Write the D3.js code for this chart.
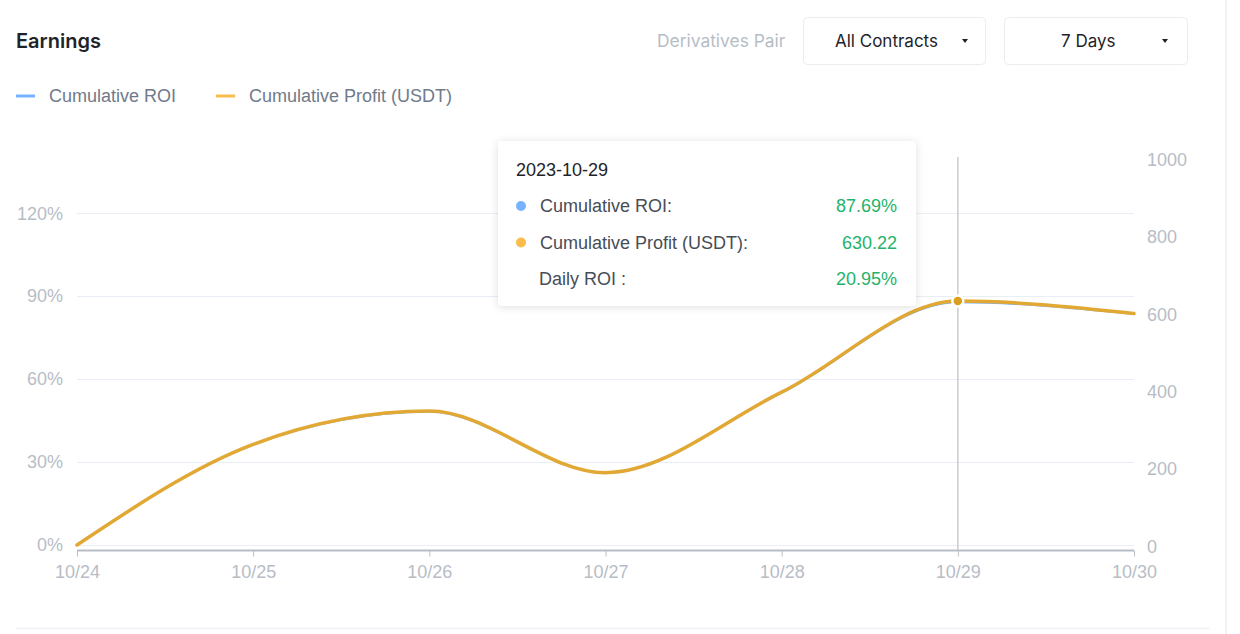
<!DOCTYPE html>
<html>
<head>
<meta charset="utf-8">
<script src="https://cdn.jsdelivr.net/npm/d3@7"></script>
<style>
  html, body { margin: 0; padding: 0; background: #fff; }
  svg { display: block; }
</style>
</head>
<body>
<svg id="chart" width="1240" height="634"></svg>
<script>
// ---- Data ----
const dates = ["10/24", "10/25", "10/26", "10/27", "10/28", "10/29", "10/30"];
const cumulativeROI = [0, 0.362, 0.481, 0.260, 0.550, 0.8769, 0.835];
const cumulativeProfit = [0, 260, 346, 187, 395, 630.22, 598];
const roiTicks = [0, 0.3, 0.6, 0.9, 1.2];
const profitTicks = [0, 200, 400, 600, 800, 1000];
const seriesNames = ["Cumulative ROI", "Cumulative Profit (USDT)"];
const tooltipDate = "2023-10-29";
const tooltipIndex = 5;
const dailyROI = "20.95%";

(function () {
// ---- Layout ----
const svg = d3.select("#chart");
const axisFont = "'Liberation Sans', Arial, Helvetica, sans-serif";
const uiFont = "Inter, 'Noto Sans', sans-serif";
const pLeft = 77, pRight = 1134, pTop = 158, pBottom = 545;

const x = d3.scalePoint().domain(dates).range([pLeft, pRight]);
const yL = d3.scaleLinear().domain([0, 1.4]).range([pBottom, pTop]);
const yR = d3.scaleLinear().domain([0, 1000]).range([pBottom, pTop]);

// frame lines
svg.append("line").attr("x1", 1226).attr("x2", 1226).attr("y1", 0).attr("y2", 634)
  .attr("stroke", "#f0f2f6").attr("stroke-width", 2);
svg.append("line").attr("x1", 16).attr("x2", 1210).attr("y1", 628.5).attr("y2", 628.5)
  .attr("stroke", "#f0f2f5").attr("stroke-width", 1.5);

// Header
svg.append("text").attr("x", 16).attr("y", 48).text("Earnings")
  .attr("font-family", uiFont).attr("font-weight", 600).attr("font-size", 20).attr("fill", "#1e2329");
svg.append("text").attr("x", 657).attr("y", 47).text("Derivatives Pair")
  .attr("font-family", uiFont).attr("font-size", 17.4).attr("fill", "#b7bdc6");

const boxes = [
  { x: 803, w: 182, label: "All Contracts", tx: 835, cx: 965 },
  { x: 1004, w: 183, label: "7 Days", tx: 1061, cx: 1165 }
];
boxes.forEach(b => {
  svg.append("rect").attr("x", b.x + 0.5).attr("y", 17.5).attr("width", b.w).attr("height", 47)
    .attr("rx", 4).attr("fill", "#fff").attr("stroke", "#eaecef");
  svg.append("text").attr("x", b.tx).attr("y", 47).text(b.label)
    .attr("font-family", uiFont).attr("font-size", 17).attr("fill", "#1e2329");
  svg.append("path").attr("d", `M${b.cx - 3},39 L${b.cx + 3},39 L${b.cx},43 Z`).attr("fill", "#1e2329");
});

// Legend
const legendColors = ["#76b3ff", "#f8bd4a"];
const legendX = [16, 216];
seriesNames.forEach((n, i) => {
  svg.append("line").attr("x1", legendX[i]).attr("x2", legendX[i] + 19).attr("y1", 96).attr("y2", 96)
    .attr("stroke", legendColors[i]).attr("stroke-width", 3);
  svg.append("text").attr("x", legendX[i] + 33).attr("y", 102).text(n)
    .attr("font-family", axisFont).attr("font-size", 18).attr("fill", "#707a8a");
});

// Gridlines
svg.append("g").selectAll("line").data(roiTicks).join("line")
  .attr("x1", pLeft).attr("x2", pRight)
  .attr("y1", d => Math.round(yL(d)) + 0.5).attr("y2", d => Math.round(yL(d)) + 0.5)
  .attr("stroke", "#e9edf5").attr("stroke-width", 1);

// Left axis
const gL = svg.append("g").attr("transform", `translate(${pLeft - 14},0)`)
  .call(d3.axisLeft(yL).tickValues(roiTicks).tickFormat(d => Math.round(d * 100) + "%").tickSize(0).tickPadding(0));
gL.select(".domain").remove();
gL.selectAll("text").attr("font-family", axisFont).attr("font-size", 18).attr("fill", "#b7bdc6");

// Right axis
const gR = svg.append("g").attr("transform", `translate(${pRight + 13},0)`)
  .call(d3.axisRight(yR).tickValues(profitTicks).tickFormat(d3.format("d")).tickSize(0).tickPadding(0));
gR.select(".domain").remove();
gR.selectAll("text").attr("font-family", axisFont).attr("font-size", 18).attr("fill", "#b7bdc6")
  .attr("dy", "0.4em");

// X axis
const gX = svg.append("g").attr("transform", `translate(0,${pBottom + 5.5})`)
  .call(d3.axisBottom(x).tickSize(6).tickPadding(9));
gX.select(".domain").attr("stroke", "#b7bdc6").attr("stroke-width", 2).attr("d", `M${pLeft},0H${pRight}`);
gX.selectAll(".tick line").attr("stroke", "#b7bdc6").attr("stroke-width", 1);
gX.selectAll("text").attr("font-family", axisFont).attr("font-size", 18).attr("fill", "#b7bdc6");

// Cursor line
svg.append("line").attr("x1", x(dates[tooltipIndex])).attr("x2", x(dates[tooltipIndex]))
  .attr("y1", 157).attr("y2", pBottom + 5)
  .attr("stroke", "#cccccc").attr("stroke-width", 1.5);

// Lines
const lineROI = d3.line().x((d, i) => x(dates[i])).y(d => yL(d)).curve(d3.curveMonotoneX);
const lineProfit = d3.line().x((d, i) => x(dates[i])).y(d => yR(d)).curve(d3.curveMonotoneX);
svg.append("path").datum(cumulativeROI).attr("d", lineROI)
  .attr("fill", "none").attr("stroke", "#76b3ff").attr("stroke-width", 1.5).attr("stroke-linecap", "round");
svg.append("path").datum(cumulativeProfit).attr("d", lineProfit)
  .attr("fill", "none").attr("stroke", "#e1a834").attr("stroke-width", 3.5).attr("stroke-linecap", "round");

// Hover point
svg.append("circle").attr("cx", x(dates[tooltipIndex])).attr("cy", yR(cumulativeProfit[tooltipIndex]))
  .attr("r", 5.5).attr("fill", "#d9a020").attr("stroke", "#fff").attr("stroke-width", 2.5);

// Tooltip
const defs = svg.append("defs");
const f = defs.append("filter").attr("id", "shadow").attr("x", "-10%").attr("y", "-20%").attr("width", "120%").attr("height", "140%");
f.append("feDropShadow").attr("dx", 0).attr("dy", 1).attr("stdDeviation", 4).attr("flood-color", "#000").attr("flood-opacity", 0.13);
const tt = svg.append("g");
tt.append("rect").attr("x", 498).attr("y", 141).attr("width", 418).attr("height", 165).attr("rx", 4)
  .attr("fill", "#fff").attr("filter", "url(#shadow)");
tt.append("text").attr("x", 516).attr("y", 176).text(tooltipDate)
  .attr("font-family", axisFont).attr("font-size", 18).attr("fill", "#1e2329");
const rows = [
  { label: seriesNames[0] + ":", value: (cumulativeROI[tooltipIndex] * 100).toFixed(2) + "%", color: "#76b3ff", lx: 540 },
  { label: seriesNames[1] + ":", value: cumulativeProfit[tooltipIndex].toFixed(2), color: "#f8bd4a", lx: 540 },
  { label: "Daily ROI :", value: dailyROI, color: null, lx: 539 }
];
rows.forEach((r, i) => {
  const yy = 206 + i * 36.5;
  if (r.color) tt.append("circle").attr("cx", 521).attr("cy", yy).attr("r", 5).attr("fill", r.color);
  tt.append("text").attr("x", r.lx).attr("y", yy + 6).text(r.label)
    .attr("font-family", axisFont).attr("font-size", 18).attr("fill", "#474d57");
  tt.append("text").attr("x", 897).attr("y", yy + 6).attr("text-anchor", "end").text(r.value)
    .attr("font-family", axisFont).attr("font-size", 18).attr("fill", "#1fb36b");
});
})();
</script>
</body>
</html>
